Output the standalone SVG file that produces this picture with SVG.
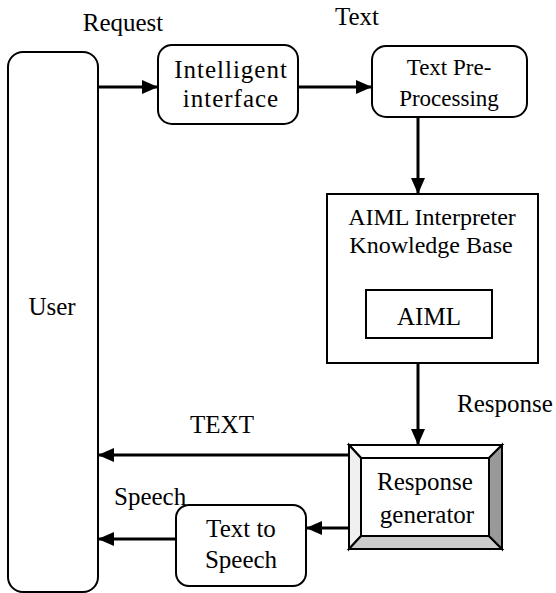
<svg xmlns="http://www.w3.org/2000/svg" width="556" height="593" viewBox="0 0 556 593">
  <style>
    text { font-family: "Liberation Serif", "Times New Roman", serif; font-size: 25px; fill: #000; }
    .mid { text-anchor: middle; }
    .box { fill: #fff; stroke: #000; stroke-width: 2; }
    .edge { fill: none; stroke: #000; stroke-width: 3; marker-end: url(#arrow); }
    .bevel { stroke: #000; stroke-width: 2; stroke-linejoin: miter; }
  </style>
  <defs>
    <marker id="arrow" viewBox="0 0 16 14" refX="16" refY="7" markerWidth="16" markerHeight="14" markerUnits="userSpaceOnUse" orient="auto">
      <path d="M0,0 L16,7 L0,14 z" fill="#000"/>
    </marker>
  </defs>

  <rect width="556" height="593" fill="#fff"/>

  <!-- free labels -->
  <g id="labels">
    <text x="123" y="31" class="mid">Request</text>
    <text x="357" y="25" class="mid">Text</text>
    <text x="457" y="412">Response</text>
    <text x="222" y="433" class="mid">TEXT</text>
    <text x="114" y="505">Speech</text>
  </g>

  <g id="user">
    <rect class="box" x="8" y="52" width="90" height="540" rx="15"/>
    <text x="52" y="315" class="mid">User</text>
  </g>

  <g id="intelligent-interface">
    <rect class="box" x="158" y="45" width="140" height="79" rx="14"/>
    <text x="231" y="78" class="mid" letter-spacing="1">Intelligent</text>
    <text x="231" y="107" class="mid" letter-spacing="1">interface</text>
  </g>

  <g id="text-preprocessing">
    <rect class="box" x="372" y="46" width="155" height="71" rx="14"/>
    <text x="449" y="75" class="mid" style="font-size:23px">Text Pre-</text>
    <text x="449" y="106" class="mid" style="font-size:23px">Processing</text>
  </g>

  <g id="aiml-interpreter">
    <rect class="box" x="327" y="194" width="211" height="169"/>
    <text x="432" y="225" class="mid" style="font-size:24px">AIML Interpreter</text>
    <text x="431" y="253" class="mid" style="font-size:24px">Knowledge Base</text>
  </g>

  <g id="aiml">
    <rect class="box" x="366" y="290" width="126" height="48"/>
    <text x="429" y="325" class="mid">AIML</text>
  </g>

  <g id="response-generator">
    <!-- bevelled frame: top, left, bottom, right faces -->
    <polygon class="bevel" points="349,445 502,445 489,458 361,458" fill="#ffffff"/>
    <polygon class="bevel" points="349,445 361,458 361,536 349,549" fill="#f0f0f0"/>
    <polygon class="bevel" points="349,549 361,536 489,536 502,549" fill="#cccccc"/>
    <polygon class="bevel" points="502,445 502,549 489,536 489,458" fill="#999999"/>
    <rect x="361" y="458" width="128" height="78" fill="#fff" stroke="#000" stroke-width="2"/>
    <text x="425" y="490" class="mid">Response</text>
    <text x="427" y="523" class="mid">generator</text>
  </g>

  <g id="text-to-speech">
    <rect class="box" x="176" y="505" width="130" height="81" rx="13"/>
    <text x="241" y="537" class="mid">Text to</text>
    <text x="241" y="568" class="mid">Speech</text>
  </g>

  <g id="connectors">
    <line class="edge" x1="98" y1="87" x2="158" y2="87"/>
    <line class="edge" x1="298" y1="87" x2="372" y2="87"/>
    <line class="edge" x1="418" y1="117" x2="418" y2="194"/>
    <line class="edge" x1="418" y1="363" x2="418" y2="445"/>
    <line class="edge" x1="349" y1="455" x2="98" y2="455"/>
    <line class="edge" x1="349" y1="528" x2="306" y2="528"/>
    <line class="edge" x1="176" y1="539" x2="98" y2="539"/>
  </g>
</svg>
